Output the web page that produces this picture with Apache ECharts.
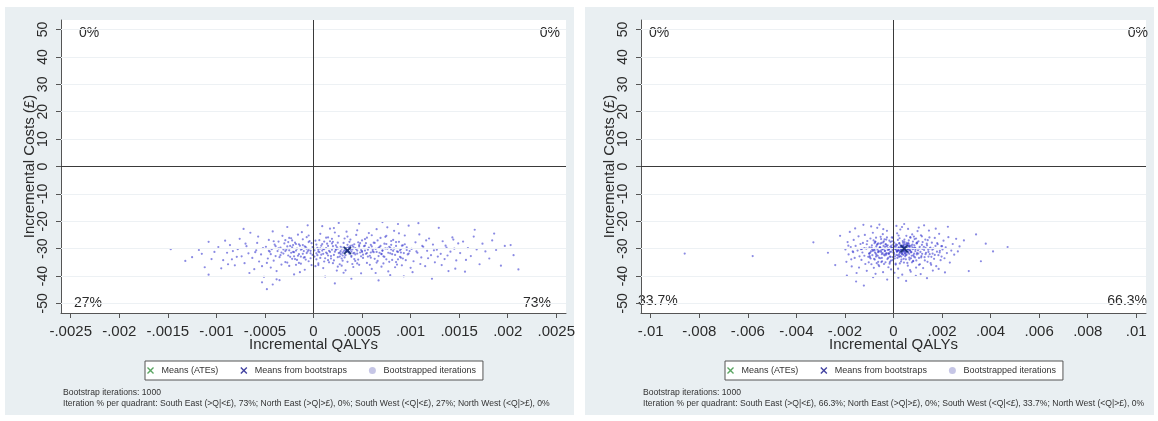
<!DOCTYPE html>
<html><head><meta charset="utf-8">
<script src="https://cdn.jsdelivr.net/npm/echarts@6/dist/echarts.min.js"></script>
<style>html,body{margin:0;padding:0;background:#fff}#c{width:1158px;height:421px}</style>
</head><body><div id="c"></div>
<script>
// ---------------- data ----------------
const xTicksLeft = [-0.0025,-0.002,-0.0015,-0.001,-0.0005,0,0.0005,0.001,0.0015,0.002,0.0025];
const xTickLabelsLeft = ['-.0025','-.002','-.0015','-.001','-.0005','0','.0005','.001','.0015','.002','.0025'];
const xTicksRight = [-0.01,-0.008,-0.006,-0.004,-0.002,0,0.002,0.004,0.006,0.008,0.01];
const xTickLabelsRight = ['-.01','-.008','-.006','-.004','-.002','0','.002','.004','.006','.008','.01'];
const yTicks = [-50,-40,-30,-20,-10,0,10,20,30,40,50];
const legendNames = ['Means (ATEs)','Means from bootstraps','Bootstrapped iterations'];
const meanATELeft = [[0.00035,-30.7]];
const meanBootLeft = [[0.00035,-30.7]];
const meanATERight = [[0.00044,-30.0]];
const meanBootRight = [[0.00044,-30.0]];
// quadrant shares: NW, NE, SW, SE
const quadrantLeft = ['0%','0%','27%','73%'];
const quadrantRight = ['0%','0%','33.7%','66.3%'];
const footLeft = ['Bootstrap iterations: 1000',
 'Iteration % per quadrant: South East (>Q|<£), 73%; North East (>Q|>£), 0%; South West (<Q|<£), 27%; North West (<Q|>£), 0%'];
const footRight = ['Bootstrap iterations: 1000',
 'Iteration % per quadrant: South East (>Q|<£), 66.3%; North East (>Q|>£), 0%; South West (<Q|<£), 33.7%; North West (<Q|>£), 0%'];

const iterationsLeft = [
[-.00147,-30.2],[-.00132,-34.5],[-.00125,-33.1],[-.00118,-30.5],[-.00112,-36.8],[-.00108,-27.5],[-.00105,-33.8],[-.00102,-31.2],[-.00098,-29.4],[-.00095,-37.2],[-.00108,-39.5],[-.00115,-31.9],
[-.00093,-34.2],[-.00089,-31.5],[-.00086,-28.7],[-.00084,-33.9],[-.00081,-36.1],[-.00078,-30.2],[-.00076,-26.4],[-.00074,-32.8],[-.00071,-35.3],[-.00069,-29.1],[-.00067,-31.7],[-.00065,-24.2],[-.00063,-33.4],[-.00061,-37.5],[-.00059,-30.6],[-.00058,-27.9],[-.00056,-34.7],[-.00054,-32.1],[-.00052,-29.8],[-.00051,-40.3],[-.00091,-27.1],[-.00072,-22.8],[-.00066,-38.9],[-.00057,-25.6],[-.00053,-36.4],[-.00088,-35.7],[-.00079,-33.0],[-.0006,-31.3],[-.0007,-28.2],[-.00083,-30.9],
[-.00048,-44.8],[-.00042,-43.1],[-.00035,-41.5],[-.00053,-42.3],
[-.00049,-29.3],[-.00047,-33.6],[-.00046,-26.8],[-.00045,-31.1],[-.00044,-36.9],[-.00043,-30.2],[-.00042,-23.7],[-.00041,-34.4],[-.00040,-28.5],[-.00039,-32.7],
[-.00038,-38.2],[-.00037,-30.9],[-.00036,-27.4],[-.00035,-33.1],[-.00034,-29.6],[-.00033,-35.8],[-.00032,-25.3],[-.00031,-31.8],[-.00030,-28.1],[-.00029,-34.9],
[-.00028,-30.4],[-.00027,-22.1],[-.00026,-32.5],[-.00025,-36.3],[-.00024,-29.0],[-.00023,-26.2],[-.00022,-33.7],[-.00021,-31.2],[-.00020,-39.4],[-.00019,-27.8],
[-.00018,-30.7],[-.00017,-34.1],[-.00016,-24.9],[-.00015,-32.0],[-.00014,-28.9],[-.00013,-35.5],[-.00012,-30.1],[-.00011,-26.6],[-.00010,-33.3],[-.00009,-37.7],
[-.00008,-29.4],[-.00007,-31.6],[-.00006,-21.5],[-.00005,-34.6],[-.00004,-27.2],[-.00003,-30.8],[-.00002,-36.0],[-.00001,-32.3],[-.00044,-32.0],[-.00036,-29.9],
[-.00031,-30.3],[-.00027,-35.1],[-.00023,-31.5],[-.00019,-33.8],[-.00015,-28.4],[-.00011,-31.9],[-.00007,-25.8],[-.00003,-33.5],[-.00048,-35.2],[-.00041,-27.3],
[-.00033,-31.4],[-.00029,-26.9],[-.00025,-30.6],[-.00021,-28.7],[-.00017,-30.0],[-.00013,-32.9],[-.00009,-29.2],[-.00005,-30.5],[-.00002,-28.0],[-.00014,-38.6],
[-.00046,-30.8],[-.00039,-29.1],[-.00034,-32.4],[-.00026,-27.6],[-.00018,-35.9],[-.00012,-24.0],[-.00006,-31.0],[-.00022,-29.5],[-.00008,-34.0],[-.00038,-41.2],
[.00001,-30.6],[.00002,-27.1],[.00003,-33.9],[.00004,-29.7],[.00005,-35.4],[.00006,-31.3],[.00007,-24.6],[.00008,-32.2],[.00009,-28.3],[.0001,-37.1],
[.00011,-30.2],[.00012,-33.5],[.00013,-26.0],[.00014,-31.8],[.00015,-29.0],[.00016,-35.0],[.00017,-22.7],[.00018,-32.7],[.00019,-30.4],[.0002,-27.5],
[.00021,-34.3],[.00022,-31.1],[.00023,-28.8],[.00024,-38.0],[.00025,-30.0],[.00026,-25.4],[.00027,-32.9],[.00028,-29.3],[.00029,-36.2],[.0003,-31.5],
[.00031,-27.9],[.00032,-33.2],[.00033,-30.9],[.00034,-23.8],[.00035,-34.8],[.00036,-29.6],[.00037,-31.9],[.00038,-26.7],[.00039,-33.0],[.0004,-30.3],
[.00041,-36.7],[.00042,-28.4],[.00043,-32.1],[.00044,-25.0],[.00045,-30.7],[.00046,-34.0],[.00047,-29.2],[.00048,-31.4],[.00049,-39.0],[.0005,-27.0],
[.00003,-31.7],[.00007,-29.9],[.00011,-34.7],[.00015,-32.5],[.00019,-26.4],[.00023,-30.5],[.00027,-35.7],[.00031,-31.0],[.00035,-28.6],[.00039,-32.6],
[.00043,-29.8],[.00047,-35.9],[.00002,-36.4],[.00006,-26.9],[.00010,-30.1],[.00014,-28.2],[.00018,-33.6],[.00022,-24.1],[.00026,-31.6],[.0003,-34.4],
[.00034,-30.6],[.00038,-29.0],[.00042,-33.8],[.00046,-27.7],[.0005,-31.2],[.00004,-32.4],[.00008,-28.9],[.00012,-40.2],[.00016,-30.8],[.0002,-35.3],
[.00024,-29.4],[.00028,-32.0],[.00032,-26.3],[.00036,-31.3],[.0004,-35.6],[.00044,-30.2],[.00048,-28.0],[.00009,-21.8],[.00021,-22.5],[.00033,-37.9],
[.00045,-23.3],[.00013,-31.4],[.00025,-33.1],[.00037,-29.5],[.00049,-32.8],[.00017,-27.3],[.00029,-30.0],[.00041,-31.7],[.00005,-30.3],[.00039,-41.0],
[.00022,-42.7],[.00031,-38.8],[.00047,-20.9],[.00026,-20.6],
[.00051,-33.4],[.00052,-29.1],[.00053,-26.5],[.00054,-31.9],[.00055,-35.2],[.00056,-30.4],[.00057,-24.3],[.00058,-32.6],[.00059,-28.6],[.0006,-37.4],
[.00061,-31.0],[.00062,-27.8],[.00063,-33.7],[.00064,-30.1],[.00065,-22.9],[.00066,-34.5],[.00067,-29.7],[.00068,-31.5],[.00069,-26.1],[.0007,-36.6],
[.00071,-30.6],[.00072,-32.8],[.00073,-28.2],[.00074,-25.7],[.00075,-33.9],[.00076,-30.0],[.00077,-38.3],[.00078,-29.3],[.00079,-31.7],[.0008,-27.2],
[.00081,-34.1],[.00082,-30.8],[.00083,-23.5],[.00084,-32.3],[.00085,-29.0],[.00086,-35.8],[.00087,-31.2],[.00088,-27.5],[.00089,-33.0],[.0009,-30.2],
[.00091,-36.1],[.00092,-28.8],[.00093,-31.6],[.00094,-25.2],[.00095,-34.2],[.00096,-29.5],[.00097,-32.1],[.00098,-21.6],[.00099,-30.9],[.001,-37.0],
[.00054,-28.0],[.00058,-35.9],[.00062,-31.3],[.00066,-27.0],[.0007,-32.0],[.00074,-29.9],[.00078,-34.8],[.00082,-26.8],[.00086,-31.0],[.0009,-33.3],
[.00094,-28.4],[.00098,-31.8],[.00056,-32.9],[.0006,-25.1],[.00064,-38.9],[.00068,-29.4],[.00072,-35.4],[.00076,-22.2],[.0008,-30.3],[.00084,-36.8],
[.00088,-24.4],[.00092,-33.6],[.00096,-30.5],[.00053,-30.7],[.00067,-41.6],[.00079,-39.7],[.00093,-40.1],[.00071,-20.3],[.00087,-21.0],[.00059,-31.4],
[.00101,-30.1],[.00103,-34.6],[.00105,-27.7],[.00107,-31.5],[.00109,-24.8],[.00111,-33.2],[.00113,-29.3],[.00115,-36.4],[.00117,-30.8],[.00119,-26.3],
[.00121,-32.4],[.00123,-28.5],[.00125,-35.0],[.00127,-30.4],[.00129,-22.4],[.00131,-31.9],[.00133,-27.3],[.00135,-33.8],[.00137,-29.6],[.00139,-38.2],
[.00141,-31.1],[.00143,-25.9],[.00145,-30.0],[.00147,-34.3],[.00149,-28.1],[.00102,-38.6],[.00106,-31.0],[.00112,-29.0],[.00118,-33.5],[.00124,-30.6],
[.00132,-36.0],[.00138,-32.5],[.00144,-26.7],[.00108,-20.7],[.00122,-41.0],[.0011,-35.6],[.00128,-32.9],[.00136,-28.9],[.00146,-37.3],[.00116,-27.0],
[.00151,-31.6],[.00154,-27.4],[.00157,-34.1],[.00159,-29.8],[.00162,-32.7],[.00165,-25.6],[.00168,-30.3],[.00171,-35.7],[.00174,-28.2],[.00177,-31.0],
[.00181,-33.6],[.00184,-27.0],[.00188,-30.5],[.00193,-36.2],[.00197,-29.0],[.00156,-38.4],[.00166,-23.1],[.00186,-24.5],
[.00203,-28.7],[.00211,-37.6],[.00206,-32.4],
[-.00029,-30.9],[-.00027,-29.2],[-.00024,-33.0],[-.00022,-27.0],[-.0002,-31.3],[-.00018,-28.3],[-.00016,-32.6],[-.00013,-30.4],[-.00011,-28.7],[-.00009,-33.1],
[-.00007,-30.0],[-.00005,-27.6],[-.00003,-31.7],[-.00001,-29.4],[.00001,-32.9],[.00003,-28.5],[.00005,-31.0],[.00007,-33.4],[.00009,-30.7],[.00011,-27.4],
[.00013,-29.8],[.00015,-34.2],[.00017,-31.2],[.00019,-28.1],[.00021,-32.3],[.00023,-30.2],[.00025,-27.8],[.00027,-31.4],[.00029,-33.6],[.00031,-29.5],
[.00033,-32.4],[.00035,-30.1],[.00037,-27.5],[.00039,-31.1],[.00041,-29.3],[.00043,-34.5],[.00045,-31.8],[.00047,-28.7],[.00049,-30.5],[.00051,-32.2],
[.00053,-28.9],[.00055,-31.6],[.00057,-29.6],[.00059,-33.3],[.00061,-30.4],[.00063,-27.9],[.00065,-31.2],[.00067,-32.7],[.00069,-29.0],[.00071,-30.8],
[.00073,-33.0],[.00075,-28.3],[.00077,-31.5],[.00079,-29.7],[.00081,-32.0],[.00083,-30.0],[.00085,-27.6],[.00087,-33.9],[.00089,-30.6],[.00091,-28.9],
[-.00025,-26.1],[-.00015,-35.2],[-.00005,-25.2],[.00005,-36.0],[.00015,-25.9],[.00025,-36.6],[.00035,-25.6],[.00045,-35.4],[.00055,-26.0],[.00065,-35.1],
[.00075,-25.3],[.00085,-34.9],[-.0001,-30.9],[0,-29.9],[.0001,-31.9],[.0002,-29.1],[.0003,-32.5],[.0004,-28.8],[.0005,-30.9],[.0006,-29.2],
[.0007,-31.9],[.0008,-28.6],[.0009,-31.4],[-.0002,-32.8],[.00032,-30.5],[.00036,-31.2],[.00034,-29.8],[.00038,-30.4],[.00028,-30.9],[.00042,-31.5]
];

const iterationsRight = [
[-.0086,-31.8],[-.0058,-32.7],[-.0033,-27.7],[-.0027,-31.5],[-.0024,-36.0],[-.0022,-25.3],[.0047,-29.4],[.0036,-34.6],[.0034,-24.8],[.0031,-38.2],[.0029,-27.0],[.0041,-31.0],[.0038,-28.2],
[-.00198,-30.3],[-.00194,-34.8],[-.00189,-27.6],[-.00185,-32.1],[-.0018,-23.9],[-.00176,-29.4],[-.00172,-36.5],[-.00168,-31.0],[-.00164,-26.8],[-.0016,-33.4],
[-.00156,-29.0],[-.00152,-38.9],[-.00148,-30.7],[-.00144,-25.5],[-.0014,-32.8],[-.00136,-28.3],[-.00132,-34.1],[-.00128,-31.4],[-.00124,-21.3],[-.0012,-29.8],
[-.00116,-35.6],[-.00112,-30.0],[-.00108,-27.2],[-.00104,-33.0],[-.001,-31.7],[-.00192,-39.8],[-.00174,-33.9],[-.00158,-22.6],[-.00142,-36.9],[-.00126,-27.9],
[-.0011,-38.1],[-.00186,-28.9],[-.00166,-31.3],[-.00134,-30.2],[-.00118,-25.0],[-.00102,-35.0],[-.00154,-42.0],[-.00122,-43.5],
[-.00099,-29.5],[-.00097,-33.2],[-.00095,-26.3],[-.00093,-31.0],[-.00091,-35.7],[-.00089,-28.8],[-.00087,-32.4],[-.00085,-24.2],[-.00083,-30.6],[-.00081,-37.0],
[-.00079,-30.1],[-.00077,-34.0],[-.00075,-27.4],[-.00073,-31.8],[-.00071,-29.2],[-.00069,-35.3],[-.00067,-22.4],[-.00065,-32.6],[-.00063,-28.1],[-.00061,-30.9],
[-.00059,-36.4],[-.00057,-29.7],[-.00055,-33.5],[-.00053,-25.7],[-.00051,-31.2],[-.00049,-27.9],[-.00047,-34.6],[-.00045,-30.3],[-.00043,-38.6],[-.00041,-29.0],
[-.00039,-32.2],[-.00037,-26.6],[-.00035,-30.8],[-.00033,-35.0],[-.00031,-28.4],[-.00029,-31.6],[-.00027,-23.5],[-.00025,-33.8],[-.00023,-29.9],[-.00021,-36.8],
[-.00019,-30.4],[-.00017,-27.1],[-.00015,-32.9],[-.00013,-29.3],[-.00011,-34.4],[-.00009,-31.1],[-.00007,-25.9],[-.00005,-30.0],[-.00003,-33.1],[-.00001,-28.5],
[-.00096,-31.5],[-.00088,-30.2],[-.0008,-33.7],[-.00072,-26.0],[-.00064,-31.3],[-.00056,-29.4],[-.00048,-32.0],[-.0004,-27.3],[-.00032,-31.9],[-.00024,-30.5],
[-.00016,-35.5],[-.00008,-29.6],[-.00092,-21.9],[-.00084,-40.4],[-.00076,-31.4],[-.00068,-28.6],[-.0006,-33.3],[-.00052,-30.7],[-.00044,-24.7],[-.00036,-32.5],
[-.00028,-29.1],[-.0002,-31.7],[-.00012,-27.6],[-.00004,-34.2],[-.00094,-33.6],[-.00078,-28.0],[-.00062,-35.9],[-.00046,-30.1],[-.0003,-26.7],[-.00014,-31.2],
[-.00086,-30.8],[-.0007,-32.3],[-.00054,-28.2],[-.00038,-30.0],[-.00022,-33.4],[-.00006,-29.8],[-.00074,-39.2],[-.00042,-22.9],[-.0001,-37.6],[-.00058,-21.2],
[-.00026,-41.3],[-.00066,-30.4],[-.00034,-29.3],[-.00018,-31.9],[-.00002,-30.6],[-.0005,-34.9],[-.00082,-27.0],[-.00098,-32.7],
[.00001,-31.4],[.00003,-27.8],[.00005,-33.6],[.00007,-30.1],[.00009,-35.8],[.00011,-29.0],[.00013,-32.3],[.00015,-24.4],[.00017,-30.8],[.00019,-37.3],
[.00021,-29.6],[.00023,-33.0],[.00025,-26.2],[.00027,-31.5],[.00029,-28.7],[.00031,-34.7],[.00033,-30.3],[.00035,-22.1],[.00037,-32.0],[.00039,-29.2],
[.00041,-30.5],[.00043,-35.1],[.00045,-27.5],[.00047,-31.7],[.00049,-29.8],[.00051,-33.9],[.00053,-25.3],[.00055,-30.9],[.00057,-28.3],[.00059,-36.2],
[.00061,-31.2],[.00063,-27.0],[.00065,-33.3],[.00067,-29.4],[.00069,-30.7],[.00071,-38.4],[.00073,-28.9],[.00075,-32.6],[.00077,-24.8],[.00079,-30.2],
[.00081,-34.5],[.00083,-29.9],[.00085,-31.8],[.00087,-26.5],[.00089,-33.2],[.00091,-30.0],[.00093,-36.9],[.00095,-28.0],[.00097,-31.6],[.00099,-23.6],
[.00002,-29.3],[.00006,-32.8],[.0001,-28.4],[.00014,-31.0],[.00018,-26.8],[.00022,-30.6],[.00026,-35.4],[.0003,-29.7],[.00034,-31.9],[.00038,-27.2],
[.00042,-33.7],[.00046,-30.4],[.0005,-28.6],[.00054,-32.2],[.00058,-30.0],[.00062,-29.1],[.00066,-34.0],[.0007,-26.0],[.00074,-31.3],[.00078,-29.5],
[.00082,-32.4],[.00086,-28.8],[.0009,-30.9],[.00094,-34.3],[.00098,-27.7],[.00004,-38.8],[.00012,-21.7],[.0002,-40.6],[.00028,-23.0],[.00036,-39.5],
[.00044,-21.0],[.00052,-41.8],[.0006,-22.8],[.00068,-37.8],[.00076,-35.0],[.00084,-25.6],[.00092,-39.9],[.00016,-33.4],[.00024,-28.0],[.00032,-32.9],
[.0004,-29.0],[.00048,-31.1],[.00056,-28.5],[.00064,-30.4],[.00072,-33.5],[.0008,-27.4],[.00088,-29.6],[.00096,-32.1],[.00008,-30.2],[.00033,-30.1],
[.00037,-28.9],[.00043,-31.0],[.00047,-29.4],[.00039,-30.8],[.00045,-28.2],[.00035,-31.6],[.00049,-30.3],[.00041,-32.3],[.00031,-29.1],[.00053,-31.4],
[.00027,-30.7],[.00057,-29.9],[.00023,-32.1],[.00061,-27.9],[.00019,-30.5],[.00065,-31.9],
[.00101,-30.6],[.00103,-27.3],[.00105,-33.4],[.00107,-29.9],[.00109,-35.7],[.00111,-31.2],[.00113,-25.1],[.00115,-32.7],[.00117,-28.6],[.00119,-30.1],
[.00122,-37.1],[.00125,-29.3],[.00128,-33.1],[.00131,-26.7],[.00134,-31.5],[.00137,-28.2],[.0014,-34.8],[.00143,-30.4],[.00146,-23.4],[.00149,-32.0],
[.00152,-29.6],[.00155,-35.9],[.00158,-27.8],[.00161,-31.8],[.00164,-30.0],[.00167,-33.7],[.0017,-26.1],[.00173,-29.0],[.00176,-36.4],[.00179,-31.1],
[.00182,-28.4],[.00185,-32.4],[.00188,-24.6],[.00191,-30.8],[.00194,-34.2],[.00197,-29.1],[.00104,-22.3],[.00112,-39.3],[.00126,-21.5],[.00138,-40.8],
[.00148,-25.9],[.00162,-38.0],[.00174,-22.7],[.00186,-37.4],[.00198,-32.9],[.00118,-31.9],[.00132,-29.7],[.00144,-32.9],
[.00202,-30.3],[.00206,-27.1],[.0021,-33.5],[.00215,-29.5],[.0022,-31.6],[.00226,-25.8],[.00232,-35.1],[.00238,-30.7],[.00244,-28.3],[.0025,-32.2],[.00258,-26.4],[.00265,-31.0],[.00272,-29.2],[.00212,-38.7],[.00224,-22.0],
[-.00078,-30.6],[-.00072,-32.9],[-.00066,-28.3],[-.0006,-31.1],[-.00054,-29.6],[-.00048,-33.4],[-.00042,-27.7],[-.00036,-30.9],[-.0003,-32.2],[-.00024,-28.8],
[-.00018,-30.2],[-.00012,-33.0],[-.00006,-27.3],[0,-31.5],[.00006,-29.1],[.00012,-30.6],[.00018,-32.5],[.00024,-28.1],[.0003,-31.0],[.00036,-29.5],
[.00042,-30.7],[.00048,-32.8],[.00054,-27.9],[.0006,-30.3],[.00066,-29.0],[.00072,-31.3],[.00078,-28.5],[.00084,-32.9],[.0009,-30.0],[.00096,-28.1],
[.00102,-31.8],[.00108,-29.3],[.00114,-33.2],[.0012,-27.6],[.00126,-30.5],[.00132,-32.0],[.00138,-28.8],[.00144,-31.2],[.0015,-29.9],[.00156,-33.0],
[-.00075,-27.5],[-.00063,-34.8],[-.00051,-26.5],[-.00039,-35.6],[-.00027,-25.9],[-.00015,-34.9],[-.00003,-26.0],[.00009,-35.5],[.00021,-25.2],[.00033,-34.0],
[.00045,-26.7],[.00057,-35.2],[.00069,-25.8],[.00081,-34.6],[.00093,-26.3],[.00105,-35.9],[.00117,-25.5],[.00129,-34.3],[.00141,-26.9],[.00153,-35.3],
[.0004,-30.6],[.00044,-29.4],[.00038,-31.2],[.00046,-30.0],[.00036,-29.9],[.0005,-30.8],[.00032,-30.4],[.00042,-28.7],[.00048,-31.7],[.0003,-29.3],
[.00052,-29.7],[.00026,-31.3],[.00056,-30.2],[.00022,-29.6],[.0006,-31.5],[.00018,-30.8],[.00064,-29.0],[.00014,-31.1],[.00068,-30.6],[.0001,-29.9],
[-.0009,-29.6],[-.001,-31.9],[-.0011,-28.4],[-.0012,-32.6],[-.0013,-30.1],[.0016,-30.4],[.0017,-32.3],[.0018,-28.0],[.0019,-31.4],[.002,-29.1],
[-.00045,-31.6],[-.00033,-28.4],[-.00021,-31.8],[-.00009,-28.9],[.00003,-32.0],[.00015,-28.6],[.00027,-32.7],[.00039,-27.8],[.00051,-32.4],[.00063,-28.3]
];

// ---------------- styles ----------------
const FONT = '"Liberation Sans", Arial, sans-serif';
const TXT = '#2b2b2b';
const AXIS = '#555';
const PANEL_BG = '#e9eff2';
const XPATH = 'path://M0,1.4L1.4,0L5,3.6L8.6,0L10,1.4L6.4,5L10,8.6L8.6,10L5,6.4L1.4,10L0,8.6L3.6,5Z';

const panels = [
  {dx: 0, xMax: 0.0026, ticks: xTicksLeft, labels: xTickLabelsLeft, pts: iterationsLeft, ate: meanATELeft, boot: meanBootLeft, quad: quadrantLeft, foot: footLeft,
   quadPos: [[79,33,'left'],[560,33,'right'],[74,303,'left'],[551,303,'right']]},
  {dx: 580, xMax: 0.0104, ticks: xTicksRight, labels: xTickLabelsRight, pts: iterationsRight, ate: meanATERight, boot: meanBootRight, quad: quadrantRight, foot: footRight,
   quadPos: [[69,33,'left'],[568,33,'right'],[58,301,'left'],[567,301,'right']]}
];

const option = {
  animation: false,
  textStyle: {fontFamily: FONT},
  grid: [], xAxis: [], yAxis: [], series: [], legend: [], graphic: []
};

panels.forEach((p, i) => {
  option.graphic.push({type: 'rect', z: -10, shape: {x: 5 + p.dx, y: 7, width: 569, height: 408}, style: {fill: PANEL_BG}, silent: true});
  option.grid.push({left: 61 + p.dx, top: 20, width: 505, height: 293, show: true, backgroundColor: '#fff', borderWidth: 0});
  const fmtX = v => { let k = 0, best = 1e9; p.ticks.forEach((t, j) => { const d = Math.abs(t - v); if (d < best) { best = d; k = j; } }); return p.labels[k]; };
  option.xAxis.push({
    gridIndex: i, type: 'value', min: -p.xMax, max: p.xMax,
    name: 'Incremental QALYs', nameLocation: 'middle', nameGap: 24, nameMoveOverlap: false,
    nameTextStyle: {fontSize: 15, color: TXT, fontFamily: FONT},
    axisLine: {show: true, onZero: false, lineStyle: {color: AXIS, width: 1}},
    axisTick: {show: true, length: 5, customValues: p.ticks, lineStyle: {color: AXIS}},
    axisLabel: {customValues: p.ticks, formatter: fmtX, fontSize: 15, color: TXT, margin: 11, fontFamily: FONT},
    splitLine: {show: false}
  });
  option.yAxis.push({
    gridIndex: i, type: 'value', min: -53.5, max: 53.5,
    name: 'Incremental Costs (£)', nameLocation: 'middle', nameGap: 24, nameMoveOverlap: false,
    nameTextStyle: {fontSize: 15, color: TXT, fontFamily: FONT},
    axisLine: {show: true, onZero: false, lineStyle: {color: AXIS, width: 1}},
    axisTick: {show: true, length: 5, customValues: yTicks, lineStyle: {color: AXIS}},
    axisLabel: {customValues: yTicks, formatter: v => String(Math.round(v)), rotate: 90, fontSize: 14, color: TXT, margin: 11, fontFamily: FONT},
    splitLine: {show: false}
  });
  option.series.push({
    name: legendNames[2], type: 'scatter', xAxisIndex: i, yAxisIndex: i,
    data: p.pts, symbol: 'circle', symbolSize: 2.2,
    itemStyle: {color: '#3c3cd0', opacity: 0.6}, silent: true, z: 2,
    markLine: {
      silent: true, symbol: 'none', label: {show: false}, animation: false,
      data: yTicks.filter(v => v !== 0).map(v => ({yAxis: v, lineStyle: {color: '#edf1f4', width: 1, type: 'solid'}}))
        .concat([{xAxis: 0, lineStyle: {color: '#3a3a3a', width: 1, type: 'solid'}}, {yAxis: 0, lineStyle: {color: '#3a3a3a', width: 1, type: 'solid'}}])
    }
  });
  option.series.push({
    name: legendNames[0], type: 'scatter', xAxisIndex: i, yAxisIndex: i,
    data: p.ate, symbol: XPATH, symbolSize: 8, itemStyle: {color: '#2f8f3a'}, z: 6, silent: true
  });
  option.series.push({
    name: legendNames[1], type: 'scatter', xAxisIndex: i, yAxisIndex: i,
    data: p.boot, symbol: XPATH, symbolSize: 8, itemStyle: {color: '#14148a'}, z: 7, silent: true
  });
  option.legend.push({
    left: 145 + p.dx, top: 361, orient: 'horizontal', selectedMode: false,
    backgroundColor: '#fff', borderColor: '#555', borderWidth: 1, borderRadius: 0,
    padding: [5, 7, 5, 2], itemGap: 22, itemWidth: 12, itemHeight: 7, symbolKeepAspect: true,
    textStyle: {fontSize: 9, color: '#333', fontFamily: FONT},
    data: [
      {name: legendNames[0], icon: XPATH, itemStyle: {color: '#2f8f3a'}},
      {name: legendNames[1], icon: XPATH, itemStyle: {color: '#14148a'}},
      {name: legendNames[2], icon: 'circle', itemStyle: {color: '#c6c6e6', opacity: 1}}
    ]
  });
  p.quad.forEach((t, j) => {
    const q = p.quadPos[j];
    option.graphic.push({type: 'text', x: q[0] + p.dx, y: q[1], silent: true,
      style: {text: t, fill: TXT, font: '14px ' + FONT, textAlign: q[2], textVerticalAlign: 'middle'}});
  });
  p.foot.forEach((t, j) => {
    option.graphic.push({type: 'text', x: 63 + p.dx, y: 393 + j * 10.2, silent: true,
      style: {text: t, fill: '#333', font: '8.6px ' + FONT, textAlign: 'left', textVerticalAlign: 'middle'}});
  });
});

const chart = echarts.init(document.getElementById('c'), null, {renderer: 'canvas'});
chart.setOption(option);
</script>
</body></html>
